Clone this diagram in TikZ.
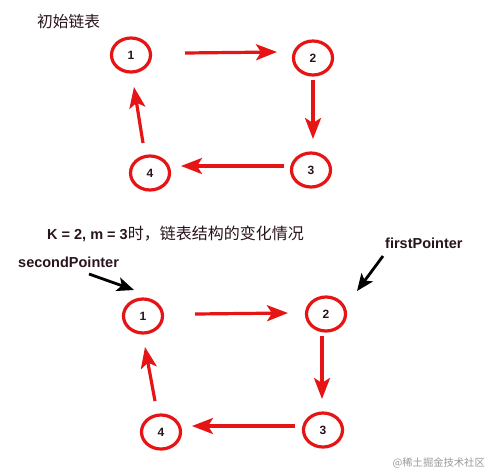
\documentclass[tikz,border=0pt]{standalone}
\usepackage{fontspec}
\setmainfont{Liberation Sans}
\newfontfamily\cjk{Noto Sans CJK SC}
\usetikzlibrary{arrows.meta,shapes.geometric}
\definecolor{lred}{RGB}{230,20,20}
\definecolor{ink}{RGB}{40,20,30}
\tikzset{
  x=1pt,y=-1pt,
  lnode/.style={draw=lred,line width=3.2pt,ellipse,minimum width=39pt,minimum height=34pt,inner sep=0pt,font=\bfseries\fontsize{12}{13}\selectfont,text=ink},
  link/.style={draw=lred,line width=3.2pt,-{Stealth[length=21pt,width=16pt,inset=5pt]}},
  ptr/.style={draw=black,line width=2.8pt,-{Stealth[length=17pt,width=14pt,inset=4pt]}},
  lbl/.style={font=\bfseries\fontsize{14.5}{16}\selectfont,text=ink,inner sep=0pt},
}
\begin{document}
\begin{tikzpicture}
\useasboundingbox (0,0) rectangle (489,472);
\fill[white] (0,0) rectangle (489,472);
% top list
\node[inner sep=0pt,anchor=west,font=\cjk\fontsize{15.7}{17}\selectfont,text=ink] (t1) at (37,22) {初始链表};
\node[lnode] (a1) at (131,55) {1};
\node[lnode] (a2) at (313,58) {2};
\node[lnode] (a3) at (311,170) {3};
\node[lnode] (a4) at (150,173) {4};
\coordinate (a12s) at (185,53); \coordinate (a12e) at (277,52);
\draw[link] (a12s) -- (a12e);
\coordinate (a23s) at (313,80); \coordinate (a23e) at (313,139);
\draw[link] (a23s) -- (a23e);
\coordinate (a34s) at (284,166); \coordinate (a34e) at (181,166);
\draw[link] (a34s) -- (a34e);
\coordinate (a41s) at (143,143); \coordinate (a41e) at (134,87);
\draw[link] (a41s) -- (a41e);
% bottom list
\node[inner sep=0pt,anchor=west,text=ink] (t2) at (47,234) {\bfseries\fontsize{14.5}{16}\selectfont K = 2, m = 3\cjk\mdseries\fontsize{16}{18}\selectfont 时，链表结构的变化情况};
\node[lbl,anchor=west] (fp) at (385,243) {firstPointer};
\node[lbl,anchor=west] (sp) at (18,262) {secondPointer};
\node[lnode] (b1) at (143,316) {1};
\node[lnode] (b2) at (326,314) {2};
\node[lnode] (b3) at (323,430) {3};
\node[lnode] (b4) at (161,432) {4};
\coordinate (b12s) at (195,314); \coordinate (b12e) at (288,313);
\draw[link] (b12s) -- (b12e);
\coordinate (b23s) at (322,336); \coordinate (b23e) at (322,399);
\draw[link] (b23s) -- (b23e);
\coordinate (b34s) at (295,426); \coordinate (b34e) at (192,426);
\draw[link] (b34s) -- (b34e);
\coordinate (b41s) at (155,401); \coordinate (b41e) at (145,347);
\draw[link] (b41s) -- (b41e);
\coordinate (sps) at (89,274); \coordinate (spe) at (134,290);
\draw[ptr] (sps) -- (spe);
\coordinate (fps) at (383,256); \coordinate (fpe) at (357,291);
\draw[ptr] (fps) -- (fpe);
% watermark
\node[inner sep=0pt,anchor=east,font=\cjk\fontsize{10.3}{12}\selectfont,text=black!40] (wm) at (485,463) {@稀土掘金技术社区};
\end{tikzpicture}
\end{document}
